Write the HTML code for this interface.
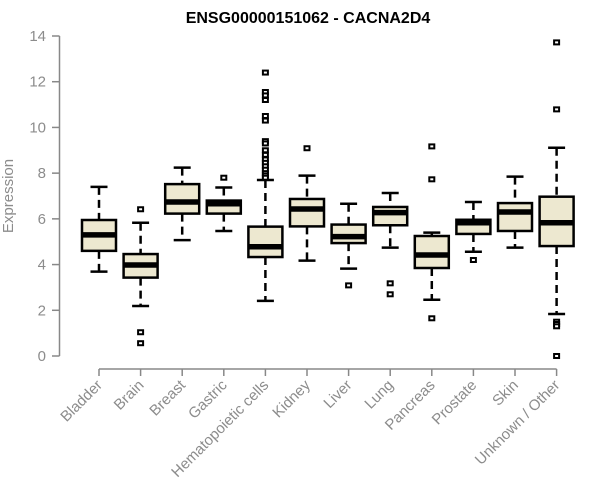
<!DOCTYPE html>
<html><head><meta charset="utf-8"><style>
body{margin:0;background:#fff}
svg{display:block;font-family:"Liberation Sans",Arial,sans-serif}
</style></head><body>
<svg id="chart" width="600" height="500">
<text x="308" y="23" text-anchor="middle" font-size="16" font-weight="bold">ENSG00000151062 - CACNA2D4</text>
<text transform="translate(13,196) rotate(-90)" text-anchor="middle" font-size="15" fill="#8c8c8c">Expression</text>
<g id="axes"></g><g id="marks"></g>
</svg>
<script>
const categories=["Bladder","Brain","Breast","Gastric","Hematopoietic cells","Kidney","Liver","Lung","Pancreas","Prostate","Skin","Unknown / Other"];
const whiskerLow=[3.69,2.19,5.07,5.47,2.41,4.17,3.82,4.74,2.46,4.56,4.74,1.84];
const q1=[4.6,3.43,6.23,6.23,4.33,5.67,4.94,5.72,3.85,5.34,5.47,4.81];
const median=[5.3,3.98,6.74,6.66,4.78,6.43,5.22,6.27,4.42,5.83,6.3,5.83];
const q3=[5.95,4.46,7.52,6.8,5.66,6.87,5.75,6.52,5.25,5.96,6.69,6.97];
const whiskerHigh=[7.4,5.83,8.24,7.37,7.7,7.89,6.66,7.13,5.4,6.74,7.85,9.11];
const outliers=[[],[6.42,1.04,0.56],[],[7.8],[12.4,11.55,11.4,11.2,10.5,10.3,9.4,9.3,9.0,8.8,8.6,8.45,8.3,8.15,8.0,7.9,7.8],[9.09],[3.09],[3.18,2.7],[9.17,7.73,1.65],[4.2],[],[13.72,10.79,1.5,1.4,1.3,0.0]];
const yTicks=[0,2,4,6,8,10,12,14];
const NS="http://www.w3.org/2000/svg";
const y=v=>356-v*(320/14);
const x=i=>99+i*41.6;
function mk(p,tag,a){const e=document.createElementNS(NS,tag);for(const k in a)e.setAttribute(k,a[k]);p.appendChild(e);return e;}
const ax=document.getElementById('axes'),mg=document.getElementById('marks');
let yl=mk(ax,'line',{x1:59.5,x2:59.5,y1:y(0),y2:y(14),stroke:'#888','stroke-width':1.5});


yTicks.forEach(t=>{
 const l=mk(ax,'line',{x1:52,x2:59.5,y1:y(t),y2:y(t),stroke:'#888','stroke-width':1.5});
 
 
 const tx=mk(ax,'text',{x:46,y:y(t)+5,'text-anchor':'end','font-size':15,fill:'#8c8c8c'});tx.textContent=t;
 
 
});
let xl=mk(ax,'line',{x1:x(0),x2:x(categories.length-1),y1:369,y2:369,stroke:'#888','stroke-width':1.5});


categories.forEach((c,i)=>{
 const l=mk(ax,'line',{x1:x(i),x2:x(i),y1:369,y2:376,stroke:'#888','stroke-width':1.5});
 
 
 const tx=mk(ax,'text',{transform:`translate(${x(i)+4},386) rotate(-45)`,'text-anchor':'end','font-size':15,fill:'#8c8c8c'});tx.textContent=c;
 
 
 const g=mk(mg,'g',{});
 
 
 const cx=x(i),hw=17,cw=8.5;
 mk(g,'line',{x1:cx,x2:cx,y1:y(whiskerHigh[i]),y2:y(q3[i]),stroke:'#000','stroke-width':2.5,'stroke-dasharray':'8,5'});
 mk(g,'line',{x1:cx,x2:cx,y1:y(q1[i]),y2:y(whiskerLow[i]),stroke:'#000','stroke-width':2.5,'stroke-dasharray':'8,5'});
 mk(g,'line',{x1:cx-cw,x2:cx+cw,y1:y(whiskerHigh[i]),y2:y(whiskerHigh[i]),stroke:'#000','stroke-width':2.5});
 mk(g,'line',{x1:cx-cw,x2:cx+cw,y1:y(whiskerLow[i]),y2:y(whiskerLow[i]),stroke:'#000','stroke-width':2.5});
 mk(g,'rect',{x:cx-hw,y:y(q3[i]),width:hw*2,height:y(q1[i])-y(q3[i]),fill:'#ede8d0',stroke:'#000','stroke-width':2.5});
 mk(g,'line',{x1:cx-hw,x2:cx+hw,y1:y(median[i]),y2:y(median[i]),stroke:'#000','stroke-width':5.5});
 outliers[i].forEach(o=>{
  const r=mk(g,'rect',{x:cx-2.5,y:y(o)-2,width:5,height:4,fill:'#fff',stroke:'#000','stroke-width':2});
  
  
 });
});
</script>
</body></html>
